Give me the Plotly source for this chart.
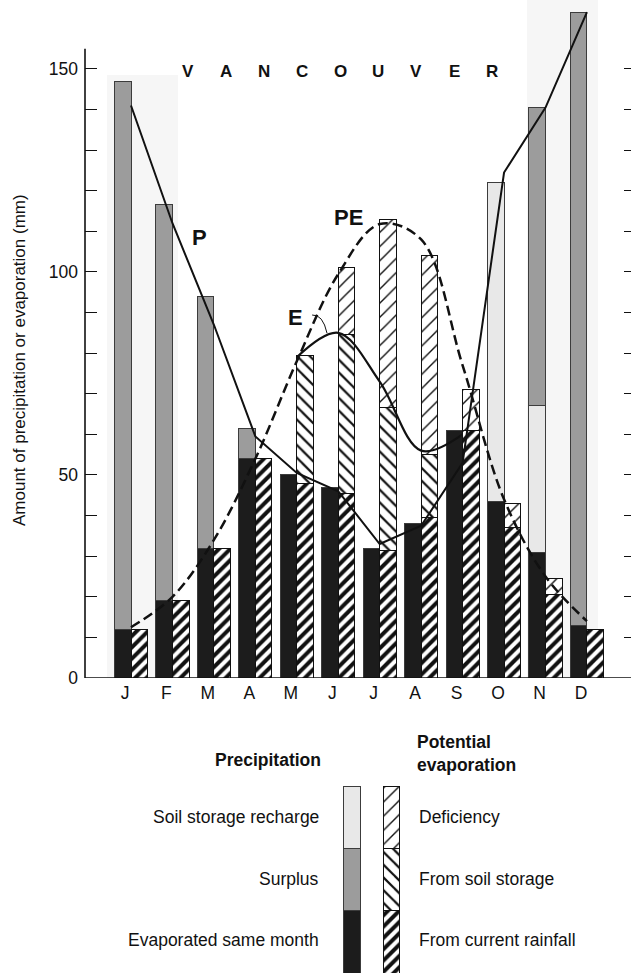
import plotly.graph_objects as go

W, H = 631, 973
FONT = "Liberation Sans, Arial, Helvetica, sans-serif"
INK = "#111111"
FS = 17.5

# ---------------- data (mm) ----------------
months = ["J", "F", "M", "A", "M", "J", "J", "A", "S", "O", "N", "D"]

# precipitation bar components
p_evaporated = [12, 19, 32, 54, 50, 47, 32, 38, 61, 43.5, 31, 13]
p_recharge = [0, 0, 0, 0, 0, 0, 0, 0, 0, 78.5, 36, 0]
p_surplus = [135, 97.5, 62, 7.5, 0, 0, 0, 0, 0, 0, 73.5, 151]

# potential evaporation bar components
pe_rain = [12, 19, 32, 54, 48, 45.5, 31.5, 39.5, 61, 37, 20.5, 12]
pe_soil = [0, 0, 0, 0, 31.5, 39, 35, 15.5, 0, 0, 0, 0]
pe_deficit = [0, 0, 0, 0, 0, 16.5, 46.5, 49, 10, 6, 4, 0]

# curves read at month centres
p_line = [141, 112, 87, 59.5, 50.5, 46, 33, 37.5, 53, 124.5, 140.5, 164]
pe_line = [12.5, 20, 34, 54, 78, 99.5, 111.8, 108, 77, 44, 25, 14]
e_line = [None, None, None, None, 79, 85, 73, 56, 60, None, None, None]

y_tick_vals = [0, 10, 20, 30, 40, 50, 60, 70, 80, 90, 100, 110, 120, 130, 140, 150]
y_tick_text = ["0", "", "", "", "", "50", "", "", "", "", "100", "", "", "", "", "150"]
right_tick_vals = [10, 20, 30, 40, 50, 60, 70, 80, 90, 100, 110, 120, 130, 140, 150]

title_letters = ["V", "A", "N", "C", "O", "U", "V", "E", "R"]

legend_precip = [("Evaporated same month", 1), ("Surplus", 1), ("Soil storage recharge", 1)]
legend_pe = [("From current rainfall", 1), ("From soil storage", 1), ("Deficiency", 1)]

# ---------------- styles ----------------
C_EVAP = "#1c1c1c"
C_SURPLUS = "#9c9c9c"
C_RECHARGE = "#e8e8e8"
PAT_RAIN = dict(shape="/", size=8, solidity=0.5, fgcolor="#111", bgcolor="white", fillmode="replace")
PAT_SOIL = dict(shape="\\", size=9, solidity=0.25, fgcolor="#111", bgcolor="white", fillmode="replace")
PAT_DEF = dict(shape="/", size=10, solidity=0.14, fgcolor="#111", bgcolor="white", fillmode="replace")

# ---------------- geometry helpers ----------------
PLOT_L, PLOT_R, PLOT_T, PLOT_B = 85, 631, 4, 678
PX_PER_MONTH = 41.45
X0_PX = 131
X_RANGE = [-(X0_PX - PLOT_L) / PX_PER_MONTH, (PLOT_R - X0_PX) / PX_PER_MONTH]
Y_RANGE = [0, 166]
BAR_W = 0.4


def px(x):
    return x / W


def py(y):
    return 1 - y / H


def nz(vals):
    return [None if (v is None or v == 0) else v for v in vals]


idx = list(range(len(months)))
x_p = [i - BAR_W / 2 for i in idx]
x_pe = [i + BAR_W / 2 for i in idx]

fig = go.Figure()

# precipitation stacks
for vals, col in [(p_evaporated, C_EVAP), (p_recharge, C_RECHARGE), (p_surplus, C_SURPLUS)]:
    fig.add_trace(go.Bar(x=x_p, y=nz(vals), width=BAR_W,
                         marker=dict(color=col, line=dict(color="#3c3c3c", width=1)),
                         hoverinfo="skip", showlegend=False))
# potential evaporation stacks
for vals, pat in [(pe_rain, PAT_RAIN), (pe_soil, PAT_SOIL), (pe_deficit, PAT_DEF)]:
    fig.add_trace(go.Bar(x=x_pe, y=nz(vals), width=BAR_W,
                         marker=dict(color="white", pattern=pat, line=dict(color="#111", width=1)),
                         hoverinfo="skip", showlegend=False))

# curves
fig.add_trace(go.Scatter(x=idx, y=pe_line, mode="lines",
                         line=dict(color=INK, width=2.5, dash="10px,5px", shape="spline", smoothing=1),
                         hoverinfo="skip", showlegend=False))
fig.add_trace(go.Scatter(x=idx, y=p_line, mode="lines",
                         line=dict(color=INK, width=2, shape="linear"),
                         hoverinfo="skip", showlegend=False))
fig.add_trace(go.Scatter(x=idx, y=e_line, mode="lines",
                         line=dict(color=INK, width=2.2, shape="spline", smoothing=1),
                         hoverinfo="skip", showlegend=False))

# legend bars (second subplot)
LEG_X_P, LEG_X_PE = 8.5, 48
for (name, v), col in zip(legend_precip, [C_EVAP, C_SURPLUS, C_RECHARGE]):
    fig.add_trace(go.Bar(x=[LEG_X_P], y=[v], width=17, xaxis="x2", yaxis="y2",
                         marker=dict(color=col, line=dict(color="#3c3c3c", width=1)),
                         hoverinfo="skip", showlegend=False))
for (name, v), pat in zip(legend_pe, [PAT_RAIN, PAT_SOIL, PAT_DEF]):
    fig.add_trace(go.Bar(x=[LEG_X_PE], y=[v], width=16, xaxis="x2", yaxis="y2",
                         marker=dict(color="white", pattern=pat, line=dict(color="#111", width=1)),
                         hoverinfo="skip", showlegend=False))

shapes = [
    # faint scan shading
    dict(type="rect", xref="paper", yref="paper", x0=px(107), x1=px(178), y0=py(678), y1=py(75),
         fillcolor="#f6f6f6", line=dict(width=0), layer="below"),
    dict(type="rect", xref="paper", yref="paper", x0=px(527), x1=px(598), y0=py(678), y1=py(0),
         fillcolor="#f6f6f6", line=dict(width=0), layer="below"),
    # left axis line
    dict(type="line", xref="x domain", yref="y", x0=0, x1=0, y0=0, y1=155,
         line=dict(color=INK, width=1.6)),
    # baseline
    dict(type="line", xref="x domain", yref="y", x0=0, x1=1, y0=0, y1=0,
         line=dict(color=INK, width=1.6)),
    # E leader
    dict(type="path", xref="x", yref="y", path="M 4.37,89.4 Q 4.63,89.6 4.73,84.9",
         line=dict(color=INK, width=1)),
]

ann = []
for k, ch in enumerate(title_letters):
    ann.append(dict(text=ch, xref="paper", yref="paper", x=px(188 + 38 * k), y=py(71),
                    showarrow=False, xanchor="center", yanchor="middle",
                    font=dict(family=FONT, size=17, color=INK, weight="bold")))
for t, xd, yd in [("P", 1.66, 108.6), ("PE", 5.24, 113.3), ("E", 3.98, 88.9)]:
    ann.append(dict(text=t, xref="x", yref="y", x=xd, y=yd, showarrow=False,
                    xanchor="center", yanchor="middle",
                    font=dict(family=FONT, size=22, color=INK, weight="bold")))
ann.append(dict(text="Amount of precipitation or evaporation (mm)", xref="paper", yref="paper",
                x=px(19), y=py(360), showarrow=False, textangle=-90,
                xanchor="center", yanchor="middle", font=dict(family=FONT, size=17, color=INK)))
# legend texts
ann.append(dict(text="Precipitation", xref="paper", yref="paper", x=px(323), y=py(760),
                showarrow=False, xanchor="right", yanchor="middle",
                font=dict(family=FONT, size=FS, color=INK, weight="bold")))
ann.append(dict(text="Potential<br>evaporation", xref="paper", yref="paper", x=px(415), y=py(753),
                showarrow=False, xanchor="left", yanchor="middle", align="left",
                font=dict(family=FONT, size=FS, color=INK, weight="bold")))
for (name, _), yy in zip(legend_precip, [940, 879, 817]):
    ann.append(dict(text=name, xref="paper", yref="paper", x=px(321), y=py(yy), showarrow=False,
                    xanchor="right", yanchor="middle", font=dict(family=FONT, size=FS, color=INK)))
for (name, _), yy in zip(legend_pe, [940, 879, 817]):
    ann.append(dict(text=name, xref="paper", yref="paper", x=px(417), y=py(yy), showarrow=False,
                    xanchor="left", yanchor="middle", font=dict(family=FONT, size=FS, color=INK)))

fig.update_layout(
    width=W, height=H, autosize=False,
    margin=dict(l=0, r=0, t=0, b=0, pad=0, autoexpand=False),
    paper_bgcolor="white", plot_bgcolor="rgba(0,0,0,0)",
    barmode="stack", showlegend=False,
    font=dict(family=FONT, size=FS, color=INK),
    xaxis=dict(domain=[px(PLOT_L), px(PLOT_R)], range=X_RANGE, tickvals=idx, ticktext=months,
               showgrid=False, zeroline=False, showline=False, ticks="", automargin=False,
               tickfont=dict(family=FONT, size=FS, color=INK), ticklabelshift=-6,
               ticklabelstandoff=2, fixedrange=True),
    yaxis=dict(domain=[py(PLOT_B), py(PLOT_T)], range=Y_RANGE, tickvals=y_tick_vals,
               ticktext=y_tick_text, ticks="inside", ticklen=12, tickwidth=1, tickcolor=INK,
               showgrid=False, zeroline=False, showline=False, automargin=False,
               tickfont=dict(family=FONT, size=FS, color=INK), ticklabelstandoff=6),
    yaxis3=dict(overlaying="y", anchor="x", side="right", range=Y_RANGE, tickvals=right_tick_vals,
                ticks="inside", ticklen=7, tickwidth=1, tickcolor=INK, showticklabels=False,
                showgrid=False, zeroline=False, showline=False, automargin=False),
    xaxis2=dict(domain=[px(343), px(400)], range=[0, 57], visible=False, anchor="y2",
                automargin=False),
    yaxis2=dict(domain=[0, py(786)], range=[0, 3], visible=False, anchor="x2", automargin=False),
    shapes=shapes, annotations=ann,
)
# dummy trace to show right ticks
fig.add_trace(go.Scatter(x=[None], y=[None], yaxis="y3", showlegend=False, hoverinfo="skip"))

PAGE_FIX = (
    "document.documentElement.style.margin='0';"
    "document.body.style.margin='0';"
    "document.body.style.overflow='hidden';"
)

fig.write_html("out.html", config={"responsive": False, "displayModeBar": False},
               post_script=PAGE_FIX)
